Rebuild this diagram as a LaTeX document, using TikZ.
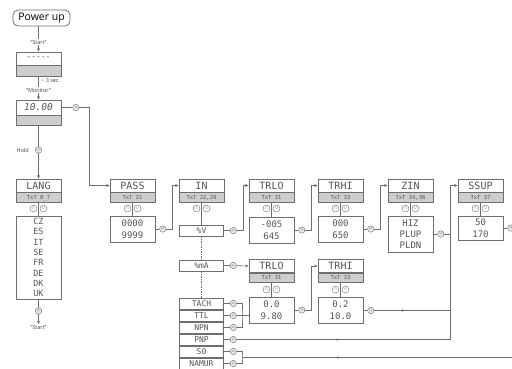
\documentclass[tikz,border=0pt]{standalone}
\usepackage{fontspec}
\setmainfont{Open Sans}
\newfontfamily\lcdfont{DejaVu Sans Mono}
\usetikzlibrary{arrows.meta, positioning, calc, decorations.markings}
\definecolor{linegray}{HTML}{6E6E6E}
\definecolor{lcdtext}{HTML}{555555}
\definecolor{bandgray}{HTML}{CDCDCD}
\definecolor{okfill}{HTML}{E6E6E6}

\begin{document}
\begin{tikzpicture}[x=1pt, y=-1pt,
  disp/.style={rectangle, draw=linegray, line width=0.7pt, fill=white, minimum width=45pt, minimum height=13pt,
               inner sep=0pt, font=\lcdfont\fontsize{10}{11}\selectfont, text=lcdtext},
  band/.style={rectangle, draw=linegray, line width=0.7pt, fill=bandgray, minimum width=45pt, minimum height=10pt,
               inner sep=0pt, font=\lcdfont\fontsize{5.5}{6}\selectfont, text=lcdtext},
  valbox/.style={rectangle, draw=linegray, line width=0.7pt, fill=white, minimum width=45pt, inner sep=0pt,
                 align=center, font=\lcdfont\fontsize{9}{12}\selectfont, text=lcdtext},
  moderow/.style={rectangle, draw=linegray, line width=0.7pt, fill=white, minimum width=44pt, minimum height=11pt,
                  inner sep=0pt, font=\lcdfont\fontsize{8}{8}\selectfont, text=lcdtext},
  okbtn/.style={circle, draw=linegray, line width=0.4pt, fill=okfill, minimum size=6.5pt, inner sep=0pt,
                font=\fontsize{2.6}{3}\selectfont, text=linegray},
  updn/.style={circle, draw=linegray, line width=0.4pt, fill=white, minimum size=7pt, inner sep=0pt,
               font=\fontsize{5}{5}\selectfont, text=linegray},
  lbl/.style={font=\fontsize{5.5}{6}\selectfont, text=black!75, inner sep=1pt},
  conn/.style={draw, color=linegray, line width=0.6pt},
  arrow/.style={conn, -{Stealth[length=3.5pt, width=3pt]}},
  tick/.style={postaction={decorate}, decoration={markings,
               mark=at position #1 with {\arrow{Stealth[length=2.5pt, width=2.5pt]}}}}
]
\useasboundingbox (0,0) rectangle (512,368);

% Power up and start sequence
\node[rectangle, rounded corners=5pt, draw=linegray, line width=0.8pt, minimum width=57pt, minimum height=16pt,
      inner sep=0pt, font=\fontsize{10.5}{12}\selectfont] (powerup) at (41.5,18) {Power up};
\node[disp, font=\lcdfont\fontsize{8}{9}\selectfont] (dashes) at (38.5,58.5) {-{}-{}-{}-{}-};
\node[band, minimum height=11pt, below=0pt of dashes] (dashes-band) {};
\node[disp, minimum height=15pt, font=\lcdfont\itshape\fontsize{9.5}{11}\selectfont] (monitor) at (38.5,107.5) {10.00};
\node[band, below=0pt of monitor] (monitor-band) {};
\node[okbtn, right=11pt of monitor] (monitor-ok) {ok};

\draw[arrow] (powerup.south -| dashes.north) -- node[lbl, fill=white, pos=0.62] (start) {``Start''} (dashes.north);
\draw[arrow] (dashes-band.south) -- node[lbl, fill=white, pos=0.58] (monlabel) {``Monitor''} (monitor.north);
\node[lbl, anchor=west] (delay) at (40,81) {\textasciitilde\ 3 sec.};

% Language menu
\node[okbtn] (hold-ok) at (38.5,150) {ok};
\node[lbl, left=5pt of hold-ok] (hold) {Hold};
\node[disp] (lang) at (38.5,185.5) {LANG};
\node[band, below=0pt of lang] (lang-band) {TxT 0\_7};
\node[valbox, minimum height=83pt, font=\lcdfont\fontsize{8.5}{10.3}\selectfont] (lang-val) at (38.5,257.5)
  {CZ\\ES\\IT\\SE\\FR\\DE\\DK\\UK};
\node[okbtn] (lang-ok) at (38.5,311) {ok};
\node[lbl] (restart) at (38.5,327.5) {``Start''};

\draw[conn] (monitor-band.south) -- (hold-ok);
\draw[arrow] (hold-ok) -- (lang.north);
\draw[conn] (lang-val) -- (lang-ok);
\draw[arrow] (lang-ok) -- (restart);

% Setup menus, top row
\node[disp] (pass) at (132.5,185.5) {PASS};
\node[band, below=0pt of pass] (pass-band) {TxT 21};
\node[valbox, minimum height=26pt] (pass-val) at (132.5,229) {0000\\9999};
\node[okbtn, right=4pt of pass-val] (pass-ok) {ok};

\node[disp] (in) at (201.5,185.5) {IN};
\node[band, below=0pt of in] (in-band) {TxT 22,29};
\node[moderow] (in-val) at (201.5,230.5) {\%V};
\node[okbtn, right=6pt of in-val] (in-ok) {ok};

\node[disp] (trlo) at (271.5,185.5) {TRLO};
\node[band, below=0pt of trlo] (trlo-band) {TxT 31};
\node[valbox, minimum height=26pt] (trlo-val) at (271.5,230) {-005\\645};
\node[okbtn, right=4pt of trlo-val] (trlo-ok) {ok};

\node[disp] (trhi) at (340.5,185.5) {TRHI};
\node[band, below=0pt of trhi] (trhi-band) {TxT 33};
\node[valbox, minimum height=26pt] (trhi-val) at (340.5,229) {000\\650};
\node[okbtn, right=4pt of trhi-val] (trhi-ok) {ok};

\node[disp] (zin) at (410.5,185.5) {ZIN};
\node[band, below=0pt of zin] (zin-band) {TxT 34,36};
\node[valbox, minimum height=36pt, font=\lcdfont\fontsize{9}{11}\selectfont] (zin-val) at (410.5,234) {HIZ\\PLUP\\PLDN};
\node[okbtn, right=4pt of zin-val] (zin-ok) {ok};

\node[disp] (ssup) at (480.5,185.5) {SSUP};
\node[band, below=0pt of ssup] (ssup-band) {TxT 37};
\node[valbox, minimum height=24pt] (ssup-val) at (480.5,228) {50\\170};
\node[okbtn, right=4pt of ssup-val] (ssup-ok) {ok};

% Input types, lower part
\node[moderow] (in-ma) at (201.5,265.5) {\%mA};
\node[okbtn, right=6pt of in-ma] (in-ma-ok) {ok};

\foreach \m/\lab/\my in {tach/TACH/303.5, ttl/TTL/315.5, npn/NPN/327.5, pnp/PNP/339.5, so/S0/351.5, namur/NAMUR/363.5}{
  \node[moderow] (\m) at (201.5,\my) {\lab};
  \node[okbtn, right=6pt of \m] (\m-ok) {ok};
}

\node[disp] (lowtrlo) at (271.5,266) {TRLO};
\node[band, minimum height=9pt, below=0pt of lowtrlo] (lowtrlo-band) {TxT 31};
\node[valbox, minimum height=26pt] (lowtrlo-val) at (271.5,310) {0.0\\9.80};
\node[okbtn, right=4pt of lowtrlo-val] (lowtrlo-ok) {ok};

\node[disp] (lowtrhi) at (340.5,266) {TRHI};
\node[band, minimum height=9pt, below=0pt of lowtrhi] (lowtrhi-band) {TxT 33};
\node[valbox, minimum height=26pt] (lowtrhi-val) at (340.5,310.5) {0.2\\10.0};
\node[okbtn, right=4pt of lowtrhi-val] (lowtrhi-ok) {ok};

% up/down keys between display and value
\foreach \col/\cx/\cy in {lang/38.5/208.5, pass/132.5/208.5, in/201.5/208.5, trlo/271.5/208.5, trhi/340.5/208.5,
                         zin/410.5/208.5, ssup/480.5/208.5, lowtrlo/271.5/289.5, lowtrhi/340.5/289.5}{
  \draw[conn] (\col-band) -- (\col-val);
  \node[updn] (\col-up) at (\cx-5,\cy) {$\wedge$};
  \node[updn] (\col-dn) at (\cx+5,\cy) {$\vee$};
}

% Connectors
\coordinate (ssup-join) at (450,339.5);
\coordinate (so-join) at (242,357.5);
\coordinate (tach-join) at (242,315.5);
\coordinate (exit-top) at (514,228);
\coordinate (exit-bottom) at (514,357.5);

\draw[conn] (monitor) -- (monitor-ok);
\draw[arrow] (monitor-ok.east) -- ++(10.5,0) |- (pass.west);
\draw[conn] (pass-val) -- (pass-ok);
\draw[arrow] (pass-ok.east) -- ++(6.5,0) |- (in.west);
\draw[conn] (in-val) -- (in-ok);
\draw[arrow] (in-ok.east) -- ++(6.5,0) |- (trlo.west);
\draw[conn] (trlo-val) -- (trlo-ok);
\draw[arrow] (trlo-ok.east) -- ++(6.5,0) |- (trhi.west);
\draw[conn] (trhi-val) -- (trhi-ok);
\draw[arrow] (trhi-ok.east) -- ++(6.5,0) |- (zin.west);
\draw[conn] (zin-val) -- (zin-ok);
\draw[conn] (zin-ok) -- (zin-ok -| ssup-join);
\draw[arrow] (ssup-join) |- (ssup.west);
\draw[conn] (ssup-val) -- (ssup-ok);
\draw[conn] (ssup-ok) -- (exit-top);

\draw[conn, dashed, dash pattern=on 1.5pt off 1pt] (in-val) -- (in-ma);
\draw[conn, dashed, dash pattern=on 1.5pt off 1pt] (in-ma) -- (tach);
\draw[conn] (in-ma) -- (in-ma-ok);
\draw[arrow] (in-ma-ok) -- (lowtrlo.west);
\draw[conn] (lowtrlo-val) -- (lowtrlo-ok);
\draw[arrow] (lowtrlo-ok.east) -- ++(6,0) |- (lowtrhi.west);
\draw[conn] (lowtrhi-val) -- (lowtrhi-ok);
\draw[conn, tick=0.4] (lowtrhi-ok) -- (lowtrhi-ok -| ssup-join);

\foreach \m in {tach, ttl, npn, pnp, so, namur}{
  \draw[conn] (\m) -- (\m-ok);
}
\draw[conn] (tach-ok) -| (tach-join) |- (npn-ok);
\draw[conn] (ttl-ok) -- (tach-join);
\draw[conn] (tach-join) -- (lowtrlo-val.west |- tach-join);
\draw[conn, tick=0.48] (pnp-ok) -- (ssup-join);
\draw[conn] (so-ok) -| (so-join) |- (namur-ok);
\draw[conn, tick=0.36] (so-join) -- (exit-bottom);

\end{tikzpicture}
\end{document}
